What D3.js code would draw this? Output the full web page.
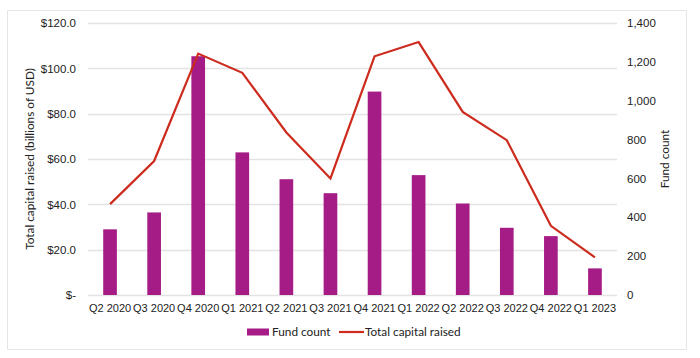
<!DOCTYPE html>
<html>
<head>
<meta charset="utf-8">
<script src="https://cdn.jsdelivr.net/npm/d3@7"></script>
<style>
  html, body { margin: 0; padding: 0; background: #fff; }
  svg { display: block; font-family: Lato, "Open Sans", sans-serif; }
</style>
</head>
<body>
<svg id="chart" width="700" height="358"></svg>
<script>
const quarters = ['Q2 2020', 'Q3 2020', 'Q4 2020', 'Q1 2021', 'Q2 2021', 'Q3 2021',
  'Q4 2021', 'Q1 2022', 'Q2 2022', 'Q3 2022', 'Q4 2022', 'Q1 2023'];
const fundCount = [338, 425, 1229, 734, 596, 524, 1047, 617, 471, 346, 303, 137];
const capitalRaised = [40.1, 59.1, 106.5, 98.0, 71.7, 51.4, 105.3, 111.6, 80.8, 68.3, 30.5, 16.6];
const leftTicks = [0, 20, 40, 60, 80, 100, 120];
const rightTicks = [0, 200, 400, 600, 800, 1000, 1200, 1400];

const width = 700;
const height = 358;
const paddingLeft = 88;
const paddingRight = 83;
const paddingTop = 23;
const paddingBottom = 63;
const barColor = '#a51c87';
const lineColor = '#cc2b1d';
const textColor = '#222';

const svg = d3.select('#chart');

// outer frame
svg.append('rect')
  .attr('x', 7.5).attr('y', 10.5)
  .attr('width', 679).attr('height', 339)
  .attr('fill', 'none')
  .attr('stroke', '#e6e6e6');

const xScale = d3.scaleBand()
  .domain(quarters)
  .range([paddingLeft, width - paddingRight])
  .paddingInner(0.69)
  .paddingOuter(0.345);

const yLeft = d3.scaleLinear().domain([0, 120]).range([height - paddingBottom, paddingTop]);
const yRight = d3.scaleLinear().domain([0, 1400]).range([height - paddingBottom, paddingTop]);

// gridlines
svg.append('g')
  .selectAll('line')
  .data(leftTicks)
  .join('line')
    .attr('x1', paddingLeft)
    .attr('x2', width - paddingRight)
    .attr('y1', (d) => Math.round(yLeft(d)) + 0.5)
    .attr('y2', (d) => Math.round(yLeft(d)) + 0.5)
    .attr('stroke', '#e3e3e3')
    .attr('stroke-width', 1.5);

// left axis
const leftAxis = d3.axisLeft(yLeft)
  .tickValues(leftTicks)
  .tickSize(0)
  .tickPadding(12)
  .tickFormat((d) => (d === 0 ? '$-' : `$${d.toFixed(1)}`));
svg.append('g')
  .attr('transform', `translate(${paddingLeft}, 0)`)
  .call(leftAxis)
  .call((g) => g.select('.domain').remove())
  .selectAll('text')
    .attr('fill', textColor)
    .style('font-size', '11.5px');

// right axis
const rightAxis = d3.axisRight(yRight)
  .tickValues(rightTicks)
  .tickSize(0)
  .tickPadding(10)
  .tickFormat(d3.format(','));
svg.append('g')
  .attr('transform', `translate(${width - paddingRight}, 0)`)
  .call(rightAxis)
  .call((g) => g.select('.domain').remove())
  .selectAll('text')
    .attr('fill', textColor)
    .style('font-size', '11.5px');

// x axis
const xAxis = d3.axisBottom(xScale).tickSize(0).tickPadding(9);
svg.append('g')
  .attr('transform', `translate(0, ${height - paddingBottom})`)
  .call(xAxis)
  .call((g) => g.select('.domain').remove())
  .selectAll('text')
    .attr('fill', textColor)
    .style('font-size', '11px');

// bars
svg.append('g')
  .selectAll('rect')
  .data(quarters)
  .join('rect')
    .attr('x', (d) => xScale(d))
    .attr('y', (d, i) => yRight(fundCount[i]))
    .attr('width', xScale.bandwidth())
    .attr('height', (d, i) => yRight(0) - yRight(fundCount[i]))
    .attr('fill', barColor);

// line
const line = d3.line()
  .x((d, i) => xScale(quarters[i]) + xScale.bandwidth() / 2)
  .y((d) => yLeft(d));
svg.append('path')
  .datum(capitalRaised)
  .attr('d', line)
  .attr('fill', 'none')
  .attr('stroke', lineColor)
  .attr('stroke-width', 2.2)
  .attr('stroke-linejoin', 'miter');

// axis titles
svg.append('text')
  .attr('transform', `translate(34, ${(paddingTop + height - paddingBottom) / 2}) rotate(-90)`)
  .attr('text-anchor', 'middle')
  .attr('fill', textColor)
  .style('font-size', '11.8px')
  .text('Total capital raised (billions of USD)');

svg.append('text')
  .attr('transform', `translate(669, ${(paddingTop + height - paddingBottom) / 2}) rotate(-90)`)
  .attr('text-anchor', 'middle')
  .attr('fill', textColor)
  .style('font-size', '11.8px')
  .text('Fund count');

// legend
const legend = svg.append('g').attr('transform', 'translate(0, 332)');
legend.append('rect')
  .attr('x', 247).attr('y', -3.5)
  .attr('width', 22).attr('height', 7)
  .attr('fill', barColor);
legend.append('text')
  .attr('x', 272).attr('y', 0).attr('dy', '0.35em')
  .attr('fill', textColor)
  .style('font-size', '11.8px')
  .text('Fund count');
legend.append('line')
  .attr('x1', 339).attr('x2', 364)
  .attr('y1', 0).attr('y2', 0)
  .attr('stroke', lineColor)
  .attr('stroke-width', 2.2);
legend.append('text')
  .attr('x', 365).attr('y', 0).attr('dy', '0.35em')
  .attr('fill', textColor)
  .style('font-size', '11.8px')
  .text('Total capital raised');
</script>
</body>
</html>
